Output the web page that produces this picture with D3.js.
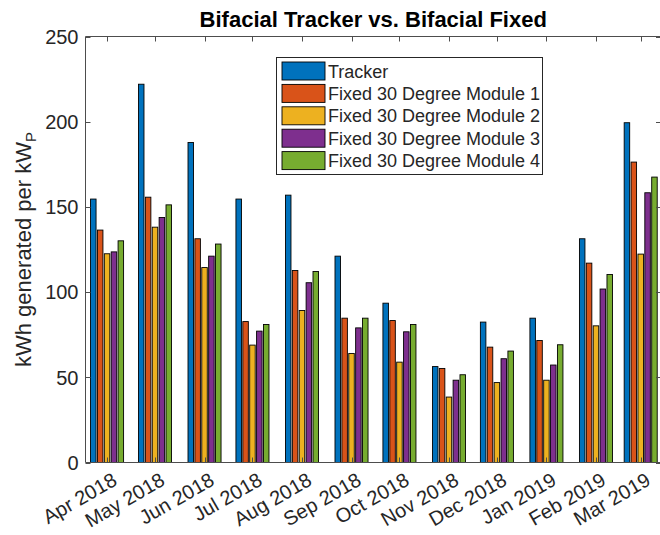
<!DOCTYPE html>
<html>
<head>
<meta charset="utf-8">
<script src="https://cdn.jsdelivr.net/npm/d3@7"></script>
<style>
  html, body { margin: 0; padding: 0; background: #fff; }
  svg { display: block; }
  text { font-family: "Liberation Sans", Arial, Helvetica, sans-serif; fill: #262626; }
</style>
</head>
<body>
<svg id="chart" width="660" height="535"></svg>
<script>
// ---- data ----
const months = ["2018-04-01","2018-05-01","2018-06-01","2018-07-01","2018-08-01","2018-09-01",
                "2018-10-01","2018-11-01","2018-12-01","2019-01-01","2019-02-01","2019-03-01"];
const monthLabels = ["Apr 2018","May 2018","Jun 2018","Jul 2018","Aug 2018","Sep 2018",
                     "Oct 2018","Nov 2018","Dec 2018","Jan 2019","Feb 2019","Mar 2019"];
const seriesNames = ["Tracker","Fixed 30 Degree Module 1","Fixed 30 Degree Module 2",
                     "Fixed 30 Degree Module 3","Fixed 30 Degree Module 4"];
const tracker = [154.6, 222.0, 187.8, 154.6, 156.9, 121.1, 93.5, 56.3, 82.4, 84.7, 131.3, 199.4];
const fixed1  = [136.4, 155.7, 131.3, 82.7, 112.7, 84.7, 83.3, 55.2, 67.7, 71.6, 117.0, 176.3];
const fixed2  = [122.5, 138.1, 114.4, 68.9, 89.2, 64.0, 58.9, 38.4, 46.9, 48.3, 80.2, 122.3];
const fixed3  = [123.6, 143.8, 121.1, 77.1, 105.5, 79.0, 76.7, 48.3, 60.9, 57.2, 101.8, 158.3];
const fixed4  = [130.1, 151.2, 128.2, 81.0, 112.1, 84.7, 81.0, 51.5, 65.4, 69.1, 110.3, 167.5];
const yTicks = [0, 50, 100, 150, 200, 250];
const colors = ["#0072BD","#D95319","#EDB120","#7E2F8E","#77AC30"];

const allSeries = [tracker, fixed1, fixed2, fixed3, fixed4];
const parse = d3.utcParse("%Y-%m-%d");
const dates = months.map(parse);

// ---- layout ----
const svg = d3.select("#chart");
const pLeft = 85.5, pRight = 661, pTop = 36.5, pBottom = 462.5;

const x = d3.scaleUtc()
  .domain([new Date(Date.UTC(2018, 2, 18, 12)), new Date(Date.UTC(2019, 2, 13, 17))])
  .range([pLeft, pRight]);
const y = d3.scaleLinear().domain([0, 250]).range([pBottom, pTop]);

// bar geometry (MATLAB grouped bar style)
const nS = allSeries.length;
const minSpacing = d3.min(dates.slice(1).map((d, i) => x(d) - x(dates[i])));
const groupW = minSpacing * Math.min(0.8, nS / (nS + 1.5));
const step = groupW / nS;
const barW = step * 0.8;

const bars = svg.append("g");
allSeries.forEach((vals, s) => {
  bars.selectAll(null)
    .data(vals)
    .enter().append("rect")
    .attr("x", (d, i) => x(dates[i]) - groupW / 2 + step * s + (step - barW) / 2)
    .attr("y", d => y(d))
    .attr("width", barW)
    .attr("height", d => y(0) - y(d))
    .attr("fill", colors[s])
    .attr("stroke", "#000")
    .attr("stroke-width", 0.9);
});

// ---- axes ----
const axisColor = "#4d4d4d";
const tickLen = 5;
const ax = svg.append("g").attr("stroke", axisColor).attr("stroke-width", 1);
ax.append("line").attr("x1", pLeft).attr("x2", pLeft).attr("y1", pTop).attr("y2", pBottom);
ax.append("line").attr("x1", pRight).attr("x2", pRight).attr("y1", pTop).attr("y2", pBottom);
ax.append("line").attr("x1", pLeft).attr("x2", pRight).attr("y1", pTop).attr("y2", pTop);
ax.append("line").attr("x1", pLeft).attr("x2", pRight).attr("y1", pBottom).attr("y2", pBottom);

// y ticks (inside, left and right)
yTicks.forEach(t => {
  const yy = Math.round(y(t)) + 0.5;
  ax.append("line").attr("x1", pLeft).attr("x2", pLeft + tickLen).attr("y1", yy).attr("y2", yy);
  ax.append("line").attr("x1", pRight).attr("x2", pRight - tickLen).attr("y1", yy).attr("y2", yy);
});
// x ticks (inside, top and bottom)
dates.forEach(d => {
  const xx = Math.round(x(d)) + 0.5;
  ax.append("line").attr("x1", xx).attr("x2", xx).attr("y1", pBottom).attr("y2", pBottom - tickLen);
  ax.append("line").attr("x1", xx).attr("x2", xx).attr("y1", pTop).attr("y2", pTop + tickLen);
});

// y tick labels
svg.append("g").selectAll("text").data(yTicks).enter().append("text")
  .attr("x", pLeft - 7)
  .attr("y", d => y(d))
  .attr("dy", "0.36em")
  .attr("text-anchor", "end")
  .attr("font-size", 20)
  .text(d => d);

// x tick labels (rotated 30°)
svg.append("g").selectAll("text").data(dates).enter().append("text")
  .attr("transform", d => `translate(${x(d) + 4},${pBottom + 9}) rotate(-30)`)
  .attr("text-anchor", "end")
  .attr("dy", "0.72em")
  .attr("font-size", 20)
  .text((d, i) => monthLabels[i]);

// y label
const yl = svg.append("text")
  .attr("transform", `translate(31,${(pTop + pBottom) / 2}) rotate(-90)`)
  .attr("text-anchor", "middle")
  .attr("font-size", 22);
yl.append("tspan").text("kWh generated per kW");
yl.append("tspan").attr("font-size", 15).attr("dy", 5).text("P");

// title
svg.append("text")
  .attr("x", (pLeft + pRight) / 2)
  .attr("y", 27)
  .attr("text-anchor", "middle")
  .attr("font-size", 22)
  .attr("font-weight", "bold")
  .style("fill", "#000")
  .text("Bifacial Tracker vs. Bifacial Fixed");

// legend
const lg = svg.append("g");
lg.append("rect").attr("x", 276.5).attr("y", 57.5).attr("width", 266).attr("height", 117)
  .attr("fill", "#fff").attr("stroke", "#262626").attr("stroke-width", 1);
seriesNames.forEach((name, i) => {
  const yy = 62 + i * 22.4;
  lg.append("rect").attr("x", 282).attr("y", yy).attr("width", 43).attr("height", 18)
    .attr("fill", colors[i]).attr("stroke", "#000").attr("stroke-width", 0.9);
  lg.append("text").attr("x", 328).attr("y", yy + 15.5).attr("font-size", 18).text(name);
});
</script>
</body>
</html>
